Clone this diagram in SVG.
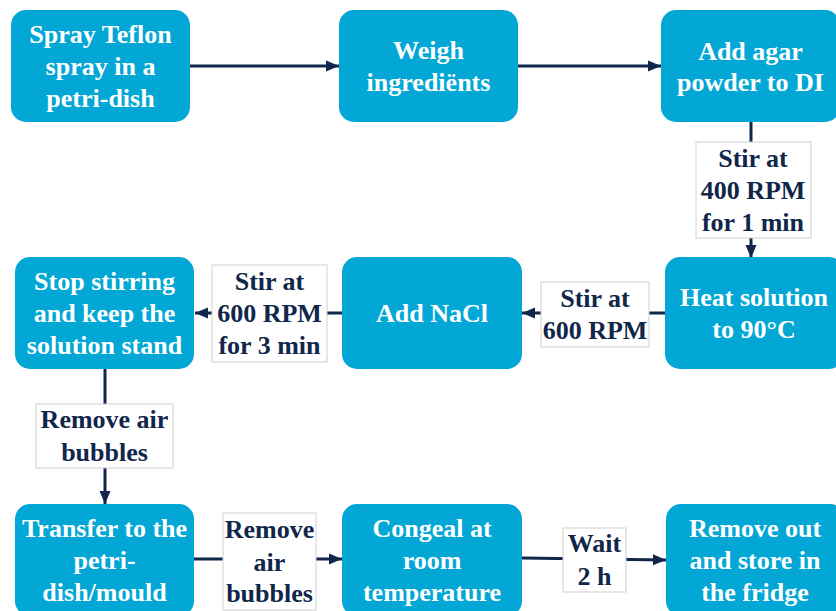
<svg xmlns="http://www.w3.org/2000/svg" width="836" height="611" viewBox="0 0 836 611">
<style>
.node rect{fill:#02A7D6;}
.node text{fill:#ffffff;font-family:'Liberation Serif','DejaVu Serif',serif;font-weight:700;font-size:26px;text-anchor:middle;}
.lbl rect{fill:#ffffff;stroke:#cfcfcf;stroke-width:1;}
.lbl text{fill:#10264A;font-family:'Liberation Serif','DejaVu Serif',serif;font-weight:700;font-size:26px;text-anchor:middle;}
.edge{stroke:#10264A;stroke-width:3;fill:none;}
</style>
<defs>
<marker id="arr" markerUnits="userSpaceOnUse" markerWidth="14" markerHeight="14" viewBox="0 0 14 14" refX="13" refY="7" orient="auto">
<path d="M0,1.5 L13,7 L0,12.5 Z" fill="#10264A"/>
</marker>
</defs>
<rect width="836" height="611" fill="#ffffff"/>
<g id="connectors">
<path class="edge" d="M190,66 H339" marker-end="url(#arr)"/>
<path class="edge" d="M518,66 H661" marker-end="url(#arr)"/>
<path class="edge" d="M751,122 V258" marker-end="url(#arr)"/>
<path class="edge" d="M665,313 H522" marker-end="url(#arr)"/>
<path class="edge" d="M342,313 H195" marker-end="url(#arr)"/>
<path class="edge" d="M105,369 V504" marker-end="url(#arr)"/>
<path class="edge" d="M194,559 H342" marker-end="url(#arr)"/>
<path class="edge" d="M522,558 L666,560" marker-end="url(#arr)"/>
<g class="lbl">
<rect x="696" y="142" width="115" height="96"/>
<text x="753" y="167">Stir at</text>
<text x="753" y="199">400 RPM</text>
<text x="753" y="231">for 1 min</text>
</g>
<g class="lbl">
<rect x="541" y="282" width="108" height="65"/>
<text x="595" y="307">Stir at</text>
<text x="595" y="339">600 RPM</text>
</g>
<g class="lbl">
<rect x="212" y="265" width="115" height="97"/>
<text x="269.5" y="290">Stir at</text>
<text x="269.5" y="322">600 RPM</text>
<text x="269.5" y="354">for 3 min</text>
</g>
<g class="lbl">
<rect x="36" y="404" width="137" height="64"/>
<text x="104.5" y="428">Remove air</text>
<text x="104.5" y="461">bubbles</text>
</g>
<g class="lbl">
<rect x="223" y="513" width="93" height="97"/>
<text x="269.5" y="538">Remove</text>
<text x="269.5" y="571">air</text>
<text x="269.5" y="602">bubbles</text>
</g>
<g class="lbl">
<rect x="563" y="528" width="63" height="64"/>
<text x="594.5" y="552">Wait</text>
<text x="594.5" y="585">2 h</text>
</g>
</g>
<g id="n1" class="node">
<rect x="11" y="10" width="179" height="112" rx="15"/>
<text x="100.5" y="43">Spray Teflon</text>
<text x="100.5" y="75">spray in a</text>
<text x="100.5" y="107">petri-dish</text>
</g>
<g id="n2" class="node">
<rect x="339" y="10" width="179" height="112" rx="15"/>
<text x="428.5" y="59">Weigh</text>
<text x="428.5" y="91">ingrediënts</text>
</g>
<g id="n3" class="node">
<rect x="661" y="10" width="179" height="112" rx="15"/>
<text x="750.5" y="60">Add agar</text>
<text x="750.5" y="91">powder to DI</text>
</g>
<g id="n4" class="node">
<rect x="665" y="257" width="179" height="112" rx="15"/>
<text x="754" y="306">Heat solution</text>
<text x="754" y="338">to 90°C</text>
</g>
<g id="n5" class="node">
<rect x="342" y="257" width="180" height="112" rx="15"/>
<text x="432" y="322">Add NaCl</text>
</g>
<g id="n6" class="node">
<rect x="15" y="257" width="179" height="112" rx="15"/>
<text x="104.5" y="290">Stop stirring</text>
<text x="104.5" y="322">and keep the</text>
<text x="104.5" y="354">solution stand</text>
</g>
<g id="n7" class="node">
<rect x="15" y="504" width="179" height="112" rx="15"/>
<text x="104.5" y="537">Transfer to the</text>
<text x="104.5" y="569">petri-</text>
<text x="104.5" y="601">dish/mould</text>
</g>
<g id="n8" class="node">
<rect x="342" y="504" width="180" height="112" rx="15"/>
<text x="432" y="537">Congeal at</text>
<text x="432" y="569">room</text>
<text x="432" y="601">temperature</text>
</g>
<g id="n9" class="node">
<rect x="666" y="504" width="179" height="112" rx="15"/>
<text x="755" y="537">Remove out</text>
<text x="755" y="569">and store in</text>
<text x="755" y="601">the fridge</text>
</g>
</svg>
